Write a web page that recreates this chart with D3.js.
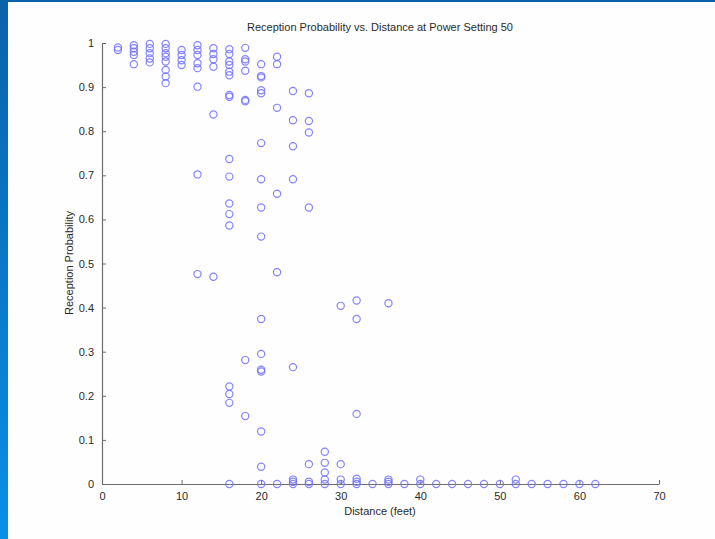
<!DOCTYPE html>
<html><head><meta charset="utf-8">
<script src="https://cdn.jsdelivr.net/npm/d3@7"></script>
<style>
body{margin:0;padding:0;overflow:hidden;}
svg{display:block;}
</style></head>
<body>
<script>
// Distances (feet) for each group of measurements
const distances = [2,4,6,8,10,12,14,16,18,20,22,24,26,28,30,32,34,36,38,40,42,44,46,48,50,52,54,56,58,60,62];
// Reception probabilities measured at each distance
const probabilities = [
  [0.990,0.984],
  [0.995,0.988,0.980,0.973,0.952],
  [0.998,0.988,0.977,0.965,0.956],
  [0.998,0.988,0.977,0.969,0.958,0.939,0.924,0.909],
  [0.984,0.973,0.961,0.950],
  [0.995,0.984,0.973,0.954,0.943,0.901,0.702,0.476],
  [0.988,0.975,0.963,0.946,0.838,0.470],
  [0.986,0.975,0.958,0.950,0.935,0.927,0.882,0.878,0.737,0.697,0.636,0.612,0.586,0.221,0.204,0.184,0.0],
  [0.989,0.963,0.958,0.937,0.871,0.868,0.281,0.154],
  [0.952,0.925,0.922,0.893,0.886,0.773,0.691,0.627,0.561,0.374,0.295,0.259,0.255,0.119,0.039,0.0],
  [0.969,0.952,0.853,0.658,0.480,0.0],
  [0.891,0.825,0.766,0.691,0.265,0.010,0.005,0.0],
  [0.886,0.823,0.797,0.627,0.045,0.005,0.0],
  [0.073,0.048,0.026,0.010,0.0],
  [0.404,0.045,0.010,0.0],
  [0.416,0.374,0.159,0.012,0.005,0.0],
  [0.0],
  [0.410,0.010,0.005,0.0],
  [0.0],
  [0.010,0.0],
  [0.0],[0.0],[0.0],[0.0],[0.0],
  [0.010,0.0],
  [0.0],[0.0],[0.0],[0.0],[0.0]
];
const xTicks = [0,10,20,30,40,50,60,70];
const yTicks = [0,0.1,0.2,0.3,0.4,0.5,0.6,0.7,0.8,0.9,1];
const titleText = "Reception Probability vs. Distance at Power Setting 50";
const xLabel = "Distance (feet)";
const yLabel = "Reception Probability";

const points = [];
distances.forEach((d,i)=>probabilities[i].forEach(p=>points.push({d,p})));

const W=715,H=539;
const svg=d3.select("body").append("svg").attr("width",W).attr("height",H);
const defs=svg.append("defs");
const g1=defs.append("linearGradient").attr("id","lb").attr("x1",0).attr("y1",0).attr("x2",0).attr("y2",1);
g1.append("stop").attr("offset","0%").attr("stop-color","#0a62aa");
g1.append("stop").attr("offset","100%").attr("stop-color","#0a8fe8");
svg.append("rect").attr("width",W).attr("height",H).attr("fill","#0a62aa");
svg.append("rect").attr("x",0).attr("y",0).attr("width",8).attr("height",H).attr("fill","url(#lb)");
svg.append("rect").attr("x",8).attr("y",2).attr("width",W-8).attr("height",H-2).attr("fill","#fefefe");

const x=d3.scaleLinear().domain([0,70]).range([102,659]);
const y=d3.scaleLinear().domain([0,1]).range([484,43]);

const font="Liberation Sans, Arial, sans-serif";

const xa=svg.append("g").attr("transform","translate(0,484)")
  .call(d3.axisBottom(x).tickValues(xTicks).tickFormat(d3.format("d")).tickSizeInner(-4).tickSizeOuter(0).tickPadding(8));
const ya=svg.append("g").attr("transform","translate(102,0)")
  .call(d3.axisLeft(y).tickValues(yTicks).tickFormat(d=>d===0?"0":d===1?"1":d3.format(".1f")(d)).tickSizeInner(-4).tickSizeOuter(0).tickPadding(8));
[xa,ya].forEach(a=>{
  a.selectAll("path").attr("stroke","#6e6e6e").attr("stroke-width",1.2);
  a.selectAll("line").attr("stroke","#6e6e6e");
  a.selectAll("text").attr("font-family",font).attr("font-size",11).attr("fill","#2a2a2a");
});

svg.append("g").selectAll("circle").data(points).join("circle")
  .attr("cx",d=>x(d.d)).attr("cy",d=>y(d.p)).attr("r",3.6)
  .attr("fill","none").attr("stroke","#6f6fff").attr("stroke-width",1.2).attr("stroke-opacity",0.85);

svg.append("text").attr("x",380).attr("y",31).attr("text-anchor","middle")
  .attr("font-family",font).attr("font-size",11).attr("fill","#2a2a2a").text(titleText);
svg.append("text").attr("x",380).attr("y",515).attr("text-anchor","middle")
  .attr("font-family",font).attr("font-size",11).attr("fill","#2a2a2a").text(xLabel);
svg.append("text").attr("transform","translate(73,263) rotate(-90)").attr("text-anchor","middle")
  .attr("font-family",font).attr("font-size",11).attr("fill","#2a2a2a").text(yLabel);
</script>
</body></html>
